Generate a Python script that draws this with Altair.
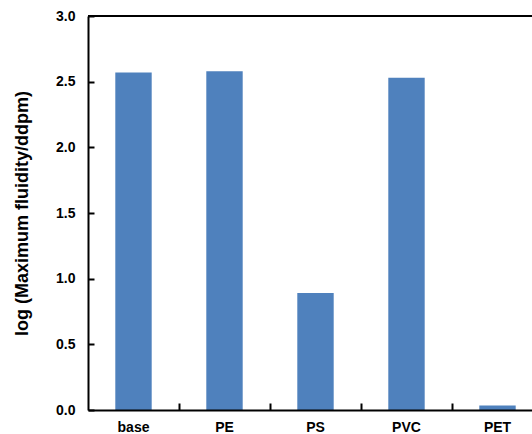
import altair as alt
import pandas as pd

categories = ["base", "PE", "PS", "PVC", "PET"]
values = [2.57, 2.58, 0.89, 2.53, 0.035]
y_ticks = [0.0, 0.5, 1.0, 1.5, 2.0, 2.5, 3.0]

df = pd.DataFrame({"cat": categories, "val": values})

W, H = 444, 394
STEP = 91
FONT = "Liberation Sans"

xscale = alt.Scale(domain=categories, range=[0, 455], paddingInner=0.6, paddingOuter=0.3)
yscale = alt.Scale(domain=[0, 3], nice=False)

base = alt.Chart(df)

bars = base.mark_bar(color="#4f81bd").encode(
    x=alt.X("cat:N", scale=xscale, sort=categories,
            axis=alt.Axis(title=None, orient="bottom", ticks=False, labelAngle=0,
                          labelPadding=10, labelFont=FONT, labelFontSize=14,
                          labelFontWeight="bold", labelColor="black",
                          domainColor="black", domainWidth=2, zindex=1)),
    y=alt.Y("val:Q", scale=yscale,
            axis=alt.Axis(title="log (Maximum fluidity/ddpm)", orient="left",
                          values=y_ticks, format=".1f", ticks=False, grid=False,
                          labelPadding=13, labelFont=FONT, labelFontSize=14,
                          labelFontWeight="bold", labelColor="black",
                          titleFont=FONT, titleFontSize=18, titleFontWeight="bold",
                          titleColor="black", titlePadding=24,
                          domainColor="black", domainWidth=2, zindex=1)),
)

tick_layer = base.mark_bar(opacity=0).encode(
    x=alt.X("cat:N", scale=xscale, sort=categories,
            axis=alt.Axis(title=None, orient="top", offset=-H, labels=False,
                          domain=False, ticks=True, tickSize=7, tickWidth=2,
                          tickColor="black", tickOffset=STEP / 2, zindex=1)),
    y=alt.Y("val:Q", scale=yscale,
            axis=alt.Axis(title=None, orient="right", offset=-W, labels=False,
                          domain=False, ticks=True, tickSize=6, tickWidth=2,
                          tickColor="black", values=y_ticks, grid=False, zindex=1)),
)

top_line = base.mark_rule(color="black", strokeWidth=2).encode(
    y=alt.datum(3.0, scale=yscale, axis=None)
)

chart = alt.layer(bars, tick_layer, top_line).resolve_axis(
    x="independent", y="independent"
).properties(
    width=W, height=H,
    autosize=alt.AutoSizeParams(type="none"),
    padding={"left": 88, "top": 16, "right": 0, "bottom": 24},
).configure_view(stroke=None).configure(background="white")

chart.save("out.html", embed_options={"renderer": "svg", "actions": False})
